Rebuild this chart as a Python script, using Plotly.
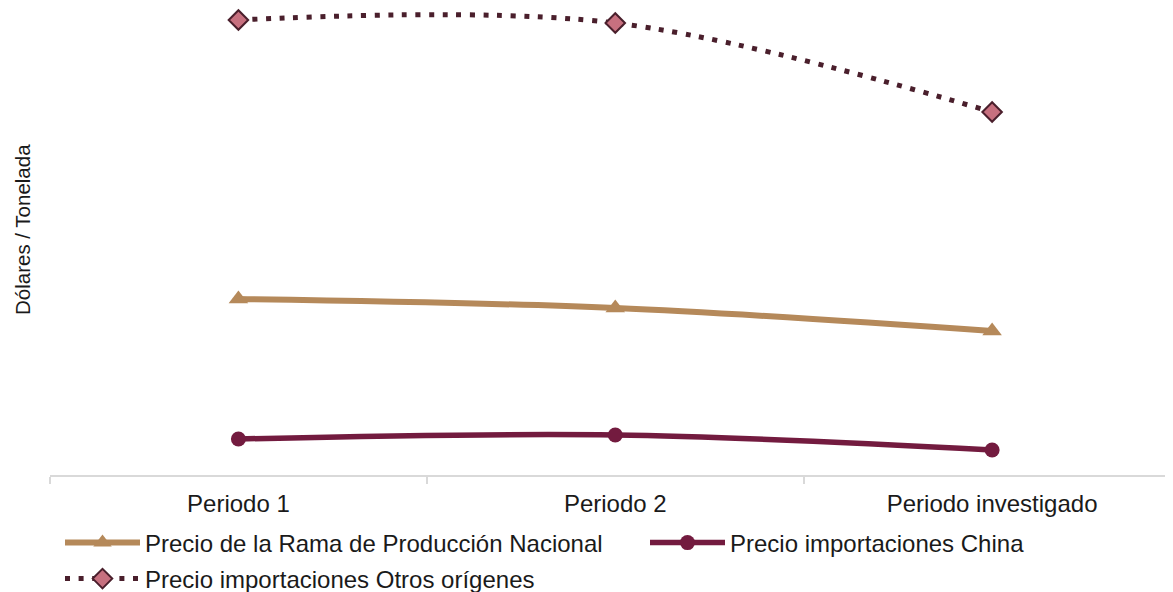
import plotly.graph_objects as go

categories = ["Periodo 1", "Periodo 2", "Periodo investigado"]
nacional = [176, 167, 144]
china = [36, 40, 25]
otros = [455, 452, 363]

font_family = "Liberation Sans, Arial, sans-serif"
FW, FH = 1165, 584          # page body has an 8px margin
L, B = 42, 117
PW, PH = FW - L, FH - B

fig = go.Figure()
fig.add_trace(go.Scatter(
    x=categories, y=nacional, name="Precio de la Rama de Producción Nacional",
    mode="lines+markers", line=dict(color="#B5895A", width=6, shape="spline"),
    marker=dict(symbol="triangle-up", size=17, color="#B5895A"),
    legend="legend",
))
fig.add_trace(go.Scatter(
    x=categories, y=china, name="Precio importaciones China",
    mode="lines+markers", line=dict(color="#731B3F", width=5.5, shape="spline"),
    marker=dict(symbol="circle", size=15, color="#731B3F"),
    legend="legend2",
))
fig.add_trace(go.Scatter(
    x=categories, y=otros, name="Precio importaciones Otros orígenes",
    mode="lines+markers", line=dict(color="#4A1F2C", width=5, dash="5px,8.6px", shape="spline"),
    marker=dict(symbol="diamond", size=15, color="#C7707F", line=dict(color="#4A1F2C", width=2)),
    legend="legend3",
))

def leg(xpx, ypx):
    return dict(
        orientation="h", x=(xpx - 8 - L) / PW, y=-(ypx - 8 - PH) / PH,
        xanchor="left", yanchor="middle",
        font=dict(size=24, color="#1a1a1a"), itemwidth=75,
        bgcolor="rgba(0,0,0,0)",
    )

fig.update_layout(
    width=FW, height=FH,
    margin=dict(l=L, r=0, t=0, b=B, autoexpand=False),
    plot_bgcolor="white", paper_bgcolor="white",
    font=dict(family=font_family, size=24, color="#1a1a1a"),
    showlegend=True,
    legend=leg(60, 543),
    legend2=leg(645, 543),
    legend3=leg(60, 579),
    xaxis=dict(
        type="category", range=[-0.5, 2.48],
        showline=True, linecolor="#D9D9D9", linewidth=2,
        ticks="outside", tickson="boundaries", tickcolor="#D9D9D9", ticklen=7, tickwidth=2,
        ticklabelstandoff=6,
        showgrid=False, tickfont=dict(size=24, color="#1a1a1a"),
    ),
    yaxis=dict(
        range=[0, PH], showgrid=False, zeroline=False, showticklabels=False, ticks="",
    ),
    annotations=[dict(
        text="Dólares / Tonelada", textangle=-90, showarrow=False,
        xref="paper", yref="paper", x=-28 / PW, y=(PH - 222) / PH,
        xanchor="center", yanchor="middle",
        font=dict(size=20.5, color="#1a1a1a"),
    )],
)

fig.write_html("out.html")
